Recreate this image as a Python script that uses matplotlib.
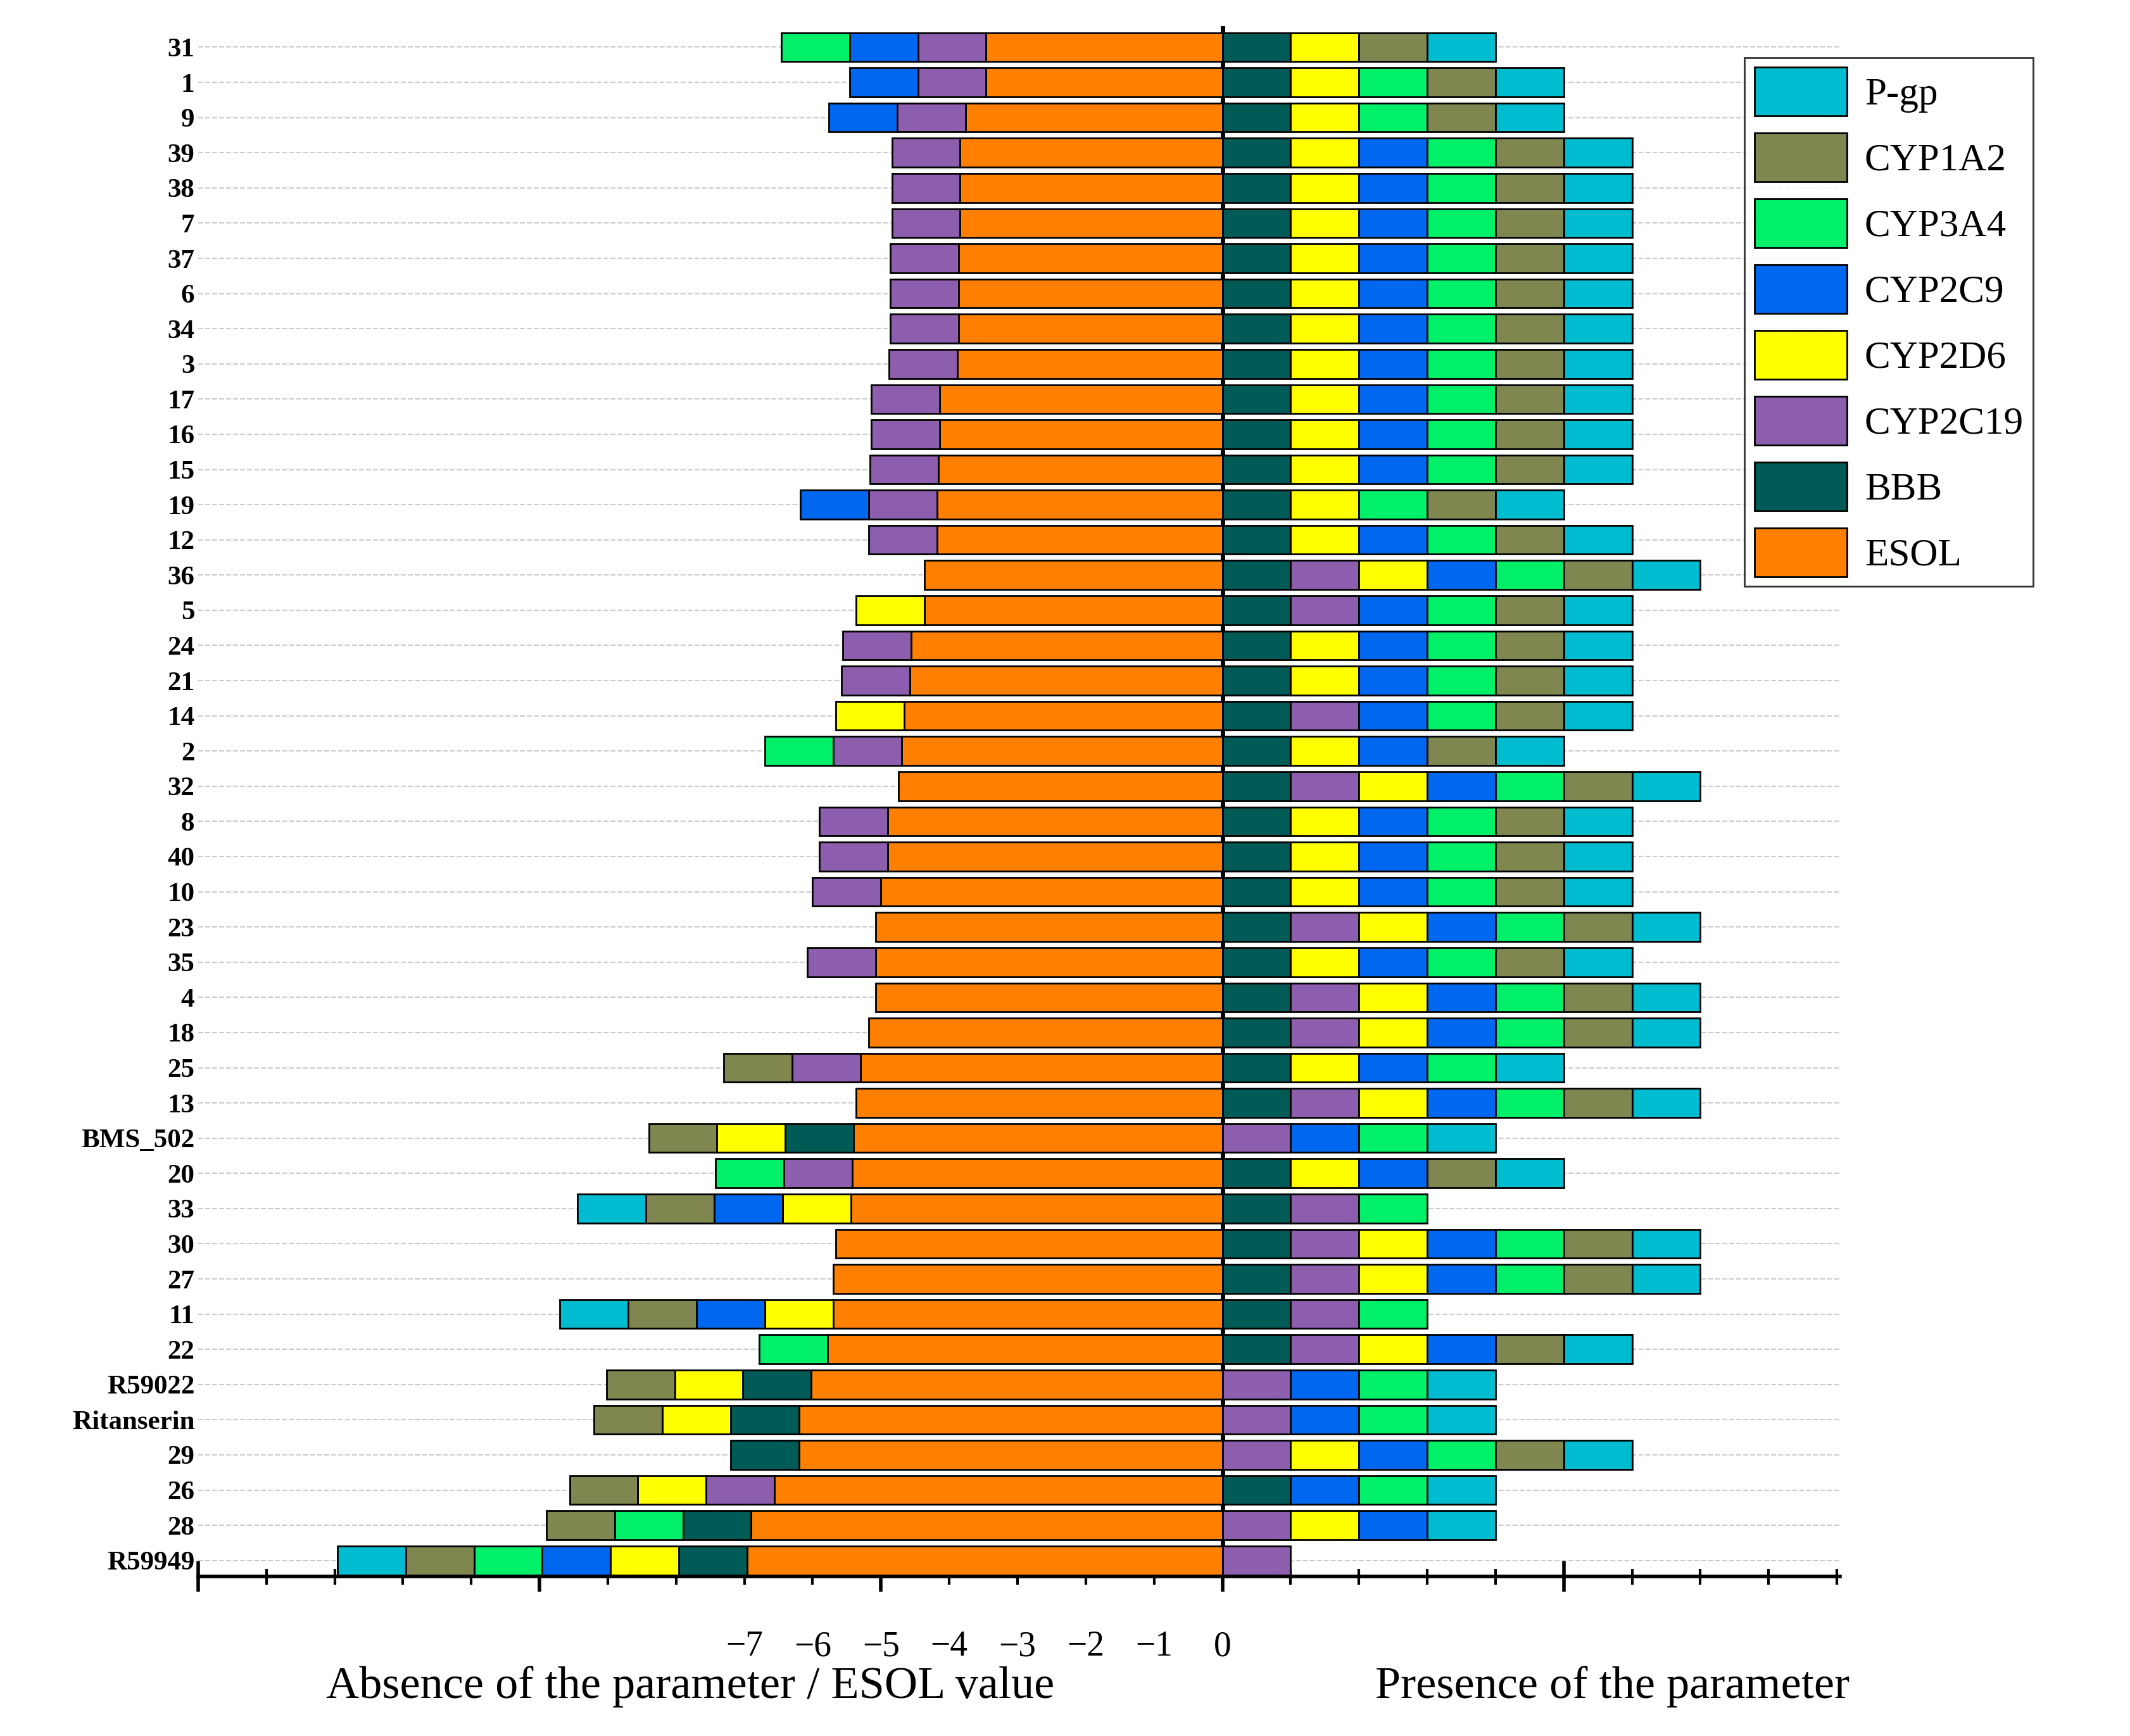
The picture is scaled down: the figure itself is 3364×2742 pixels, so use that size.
import matplotlib.pyplot as plt
from matplotlib.patches import Patch

# compounds, top to bottom
compounds = ["31", "1", "9", "39", "38", "7", "37", "6", "34", "3", "17", "16", "15",
             "19", "12", "36", "5", "24", "21", "14", "2", "32", "8", "40", "10", "23",
             "35", "4", "18", "25", "13", "BMS_502", "20", "33", "30", "27", "11", "22",
             "R59022", "Ritanserin", "29", "26", "28", "R59949"]

esol = [-3.46, -3.46, -3.76, -3.84, -3.84, -3.84, -3.86, -3.86, -3.86, -3.88, -4.14,
        -4.14, -4.16, -4.18, -4.18, -4.36, -4.36, -4.56, -4.58, -4.66, -4.70, -4.74,
        -4.90, -4.90, -5.00, -5.08, -5.08, -5.08, -5.18, -5.30, -5.36, -5.40, -5.42,
        -5.44, -5.66, -5.70, -5.70, -5.78, -6.02, -6.20, -6.20, -6.56, -6.90, -6.96]

# parameters in stacking order (from zero outwards)
params = ["BBB", "CYP2C19", "CYP2D6", "CYP2C9", "CYP3A4", "CYP1A2", "P-gp"]
codes = ["B", "C", "D", "N", "A", "P", "G"]

# present parameters per compound (B=BBB C=2C19 D=2D6 N=2C9 A=3A4 P=1A2 G=P-gp)
present = ["BDPG", "BDAPG", "BDAPG", "BDNAPG", "BDNAPG", "BDNAPG", "BDNAPG", "BDNAPG",
           "BDNAPG", "BDNAPG", "BDNAPG", "BDNAPG", "BDNAPG", "BDAPG", "BDNAPG",
           "BCDNAPG", "BCNAPG", "BDNAPG", "BDNAPG", "BCNAPG", "BDNPG", "BCDNAPG",
           "BDNAPG", "BDNAPG", "BDNAPG", "BCDNAPG", "BDNAPG", "BCDNAPG", "BCDNAPG",
           "BDNAG", "BCDNAPG", "CNAG", "BDNPG", "BCA", "BCDNAPG", "BCDNAPG", "BCA",
           "BCDNPG", "CNAG", "CNAG", "CDNAPG", "BNAG", "CDNG", "C"]

colors = {"ESOL": "#FF8000", "BBB": "#005A55", "CYP2C19": "#8E5EAE",
          "CYP2D6": "#FFFF00", "CYP2C9": "#0068F0", "CYP3A4": "#00F06A",
          "CYP1A2": "#7F8650", "P-gp": "#00BCD0"}

fig = plt.figure(figsize=(33.64, 27.42), dpi=100)
ax = fig.add_axes([0.093, 0.092, 0.771, 0.893])

n = len(compounds)
h = 0.82
for i, name in enumerate(compounds):
    y = n - 1 - i
    ax.barh(y, esol[i], height=h, color=colors["ESOL"], edgecolor="black", linewidth=2, zorder=3)
    right = 0
    left = esol[i]
    for p, c in zip(params, codes):
        if c in present[i]:
            ax.barh(y, 1, left=right, height=h, color=colors[p], edgecolor="black", linewidth=2, zorder=3)
            right += 1
        else:
            ax.barh(y, -1, left=left, height=h, color=colors[p], edgecolor="black", linewidth=2, zorder=3)
            left -= 1

ax.axvline(0, color="black", linewidth=5, zorder=2)
ax.set_xlim(-15, 9.05)
ax.set_ylim(-0.45, n - 0.4)
ax.set_yticks(range(n))
ax.set_yticklabels(compounds[::-1], fontfamily="Liberation Serif", fontweight="bold", fontsize=31)
ax.tick_params(axis="y", length=0, pad=4)
ax.yaxis.grid(True, linestyle="--", color="#cccccc", linewidth=1.5, zorder=0)
ax.yaxis.set_label_coords(0, 0)

for s in ["top", "right", "left"]:
    ax.spines[s].set_visible(False)
ax.spines["bottom"].set_linewidth(4)

ax.set_xticks(range(-15, 10), minor=True)
ax.set_xticks([-15, -10, -5, 0, 5])
ax.set_xticklabels([])
ax.tick_params(axis="x", which="major", length=35, width=4, direction="inout")
ax.tick_params(axis="x", which="minor", length=18, width=3, direction="inout")
for v in range(-7, 1):
    ax.text(v, -0.035, "\u22127" if False else (str(v).replace("-", "\u2212")),
            transform=ax.get_xaxis_transform(), ha="center", va="top",
            fontfamily="Liberation Serif", fontsize=40)

fig.text(0.324, 0.022, "Absence of the parameter / ESOL value", ha="center",
         fontfamily="Liberation Serif", fontsize=52)
fig.text(0.757, 0.022, "Presence of the parameter", ha="center",
         fontfamily="Liberation Serif", fontsize=52)

order = ["P-gp", "CYP1A2", "CYP3A4", "CYP2C9", "CYP2D6", "CYP2C19", "BBB", "ESOL"]
handles = [Patch(facecolor=colors[k], edgecolor="black", linewidth=2) for k in order]
leg = fig.legend(handles, order, loc="upper left", bbox_to_anchor=(0.81, 0.978),
                 prop={"family": "Liberation Serif", "size": 44}, handlelength=2.4,
                 handleheight=1.55, labelspacing=0.45, handletextpad=0.45,
                 fancybox=False, edgecolor="black", borderpad=0.25)
leg.get_frame().set_linewidth(2)

fig.savefig("out.png")
